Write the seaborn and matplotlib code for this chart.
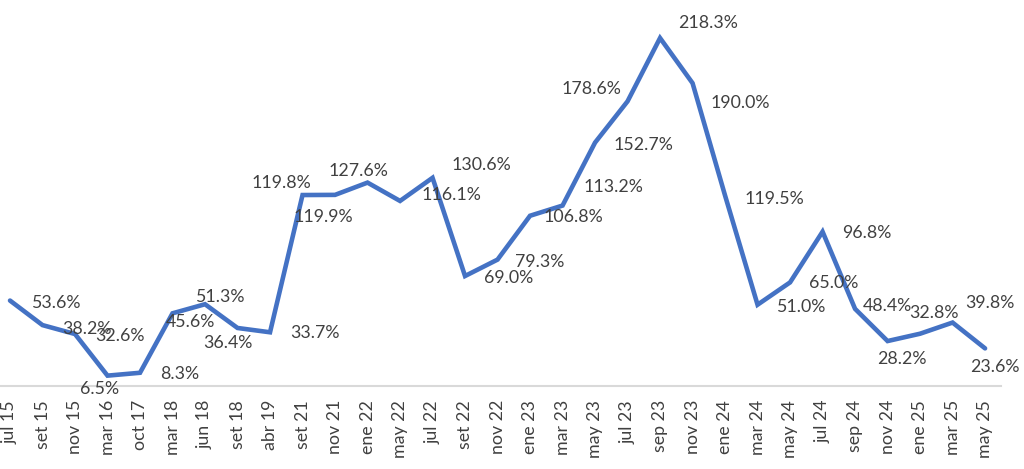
import matplotlib
matplotlib.use("Agg")
import matplotlib.pyplot as plt
import numpy as np
import pandas as pd
import seaborn as sns

# Data
periods = ["jul 15", "set 15", "nov 15", "mar 16", "oct 17", "mar 18", "jun 18", "set 18",
           "abr 19", "set 21", "nov 21", "ene 22", "may 22", "jul 22", "set 22", "nov 22",
           "ene 23", "mar 23", "may 23", "jul 23", "sep 23", "nov 23", "ene 24", "mar 24",
           "may 24", "jul 24", "sep 24", "nov 24", "ene 25", "mar 25", "may 25"]
values = [53.6, 38.2, 32.6, 6.5, 8.3, 45.6, 51.3, 36.4, 33.7, 119.8, 119.9, 127.6, 116.1,
          130.6, 69.0, 79.3, 106.8, 113.2, 152.7, 178.6, 218.3, 190.0, 119.5, 51.0, 65.0,
          96.8, 48.4, 28.2, 32.8, 39.8, 23.6]

# label offsets (pixels, right / down) for each data label
label_dx = [46, 44, 45, -8, 40, 18, 15, -10, 45, -21, -12, -9, 51, 49, 44, 42,
            43, 51, 48, -36, 48, 48, 49, 43, 44, 44, 32, 14, 14, 37, 10]
label_dy = [2, 4, 2, 13, 1, 9, -7, 15, 1, -12, 22, -12, -6, -13, 2, 2,
            1, -19, 2, -12, -15, 20, 3, 2, 1, 1, -3, 18, -21, -20, 19]

df = pd.DataFrame({"pos": np.arange(len(periods)), "value": values})

sns.set_style("white")
plt.rcParams["font.family"] = ["Lato", "DejaVu Sans"]
text_color = "#404040"

fig = plt.figure(figsize=(10.24, 4.69), dpi=100)
ax = fig.add_axes([0, 83 / 469, 1001 / 1024, 386 / 469])

sns.lineplot(data=df, x="pos", y="value", ax=ax, color="#4472C4", linewidth=3.3,
             solid_joinstyle="miter")

for i, v in enumerate(values):
    ax.annotate(f"{v:.1f}%", (i, v), xytext=(label_dx[i], -label_dy[i]),
                textcoords="offset pixels", ha="center", va="center",
                fontsize=12.8, color=text_color)

ax.set_xlim(-0.308, 30.49)
ax.set_ylim(0, 386 / 1.594)
ax.set_xticks(df["pos"])
ax.set_xticklabels(periods, rotation=90, fontsize=12.8, color=text_color)
ax.tick_params(axis="x", length=0, pad=10)
ax.set_yticks([])
ax.set_xlabel("")
ax.set_ylabel("")
for side in ["left", "right", "top"]:
    ax.spines[side].set_visible(False)
ax.spines["bottom"].set_color("#D9D9D9")
ax.spines["bottom"].set_linewidth(1.5)

fig.savefig("out.png", dpi=100)
